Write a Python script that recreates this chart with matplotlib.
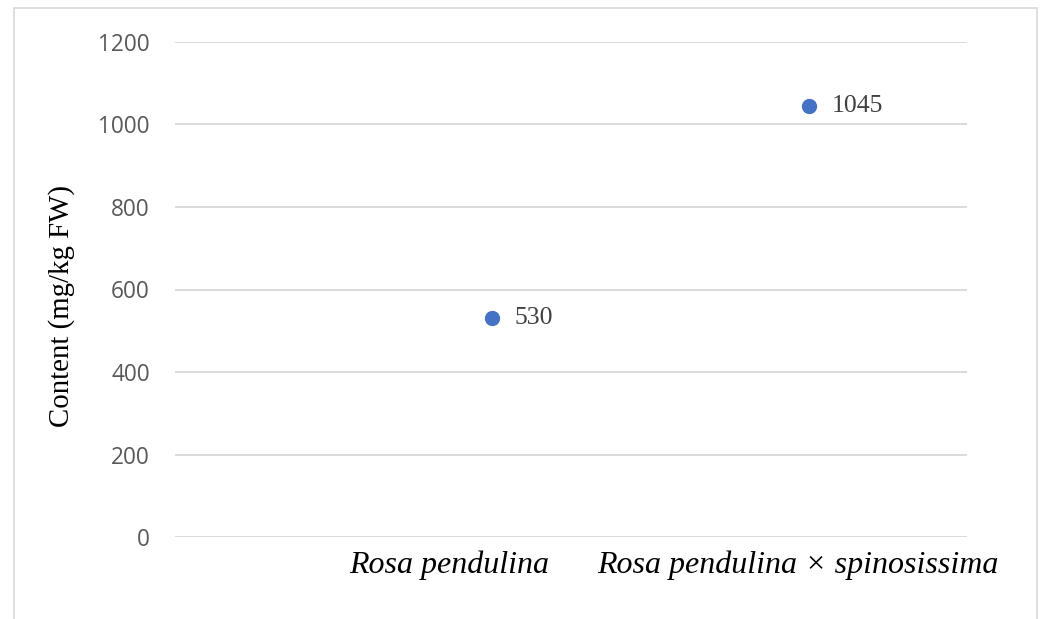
import matplotlib
matplotlib.use("Agg")
import matplotlib.pyplot as plt
from matplotlib.patches import Rectangle
from matplotlib.transforms import blended_transform_factory

# Data
categories = ["Rosa pendulina", "Rosa pendulina \u00d7 spinosissima"]
values = [530, 1045]
yticks = [0, 200, 400, 600, 800, 1000, 1200]
ylabel = "Content (mg/kg FW)"

# Layout constants
cat_pos = [1, 2]
label_shift = [-0.133, -0.033]

fig = plt.figure(figsize=(10.43, 6.19), dpi=100)
fig.patch.set_facecolor("white")
ax = fig.add_axes([175/1043, 1-537/619, (967-175)/1043, (537-42)/619])

ax.plot(cat_pos, values, linestyle="none", marker="o", markersize=10,
        color="#4472C4", zorder=3, clip_on=False)
for x, v in zip(cat_pos, values):
    ax.annotate(str(v), (x, v), xytext=(16.5, 0), textcoords="offset points",
                ha="left", va="center", fontsize=18.5, color="#404040",
                family="Liberation Serif")

ax.set_xlim(0, 2.5)
ax.set_ylim(0, 1200)
ax.set_yticks(yticks)
ax.set_yticklabels([str(t) for t in yticks], fontsize=16.3, color="#595959",
                   family="Open Sans")
ax.set_xticks([])
ax.tick_params(axis="y", length=0, pad=18)
ax.grid(axis="y", color="#D4D4D4", linewidth=1.2)
ax.set_axisbelow(True)
for s in ax.spines.values():
    s.set_visible(False)

trans = blended_transform_factory(ax.transData, ax.transAxes)
for x, sh, c in zip(cat_pos, label_shift, categories):
    ax.text(x + sh, -0.058, c, transform=trans, ha="center", va="center",
            fontsize=23, style="italic", family="Liberation Serif", color="black")

fig.text(62/1043, 1-306/619, ylabel, rotation=90, ha="center", va="center",
         fontsize=20.8, family="Liberation Serif", color="black")

fig.patches.append(Rectangle((14/1043, -0.05), (1037-14)/1043, 1.05-8/619,
                             transform=fig.transFigure, fill=False,
                             edgecolor="#D9D9D9", linewidth=1.2))

fig.savefig("out.png", dpi=100, facecolor="white")
